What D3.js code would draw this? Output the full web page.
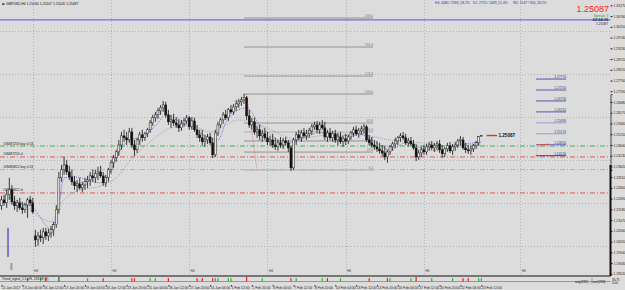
<!DOCTYPE html>
<html>
<head>
<meta charset="utf-8">
<script src="https://cdn.jsdelivr.net/npm/d3@7"></script>
<style>
body { margin: 0; background: #dcdcdc; }
svg { display: block; font-family: "Liberation Sans", Arial, sans-serif; }
</style>
</head>
<body>
<div id="chart"></div>
<script>
// GBPUSD H4, first bar 11 Jan 2017 20:00, [open, high, low, close]
const bars = [
  [1.2175,1.2222,1.2156,1.2203],[1.2203,1.2227,1.2175,1.2189],[1.2189,1.2251,1.2165,1.2227],[1.2227,1.2308,1.2203,1.2251],
  [1.2251,1.2274,1.2179,1.2194],[1.2194,1.2222,1.2156,1.2175],[1.2175,1.2203,1.2146,1.2189],[1.2189,1.2213,1.2156,1.2165],
  [1.2165,1.2194,1.2137,1.2156],[1.2156,1.2189,1.2141,1.2179],[1.2179,1.2213,1.2118,1.2203],[1.2203,1.2222,1.2175,1.2189],
  [1.2189,1.2213,1.2137,1.2146],
  [1.2032,1.2061,1.1980,1.2013],[1.2013,1.2051,1.1985,1.2032],[1.2032,1.2061,1.2003,1.2023],[1.2023,1.2070,1.1994,1.2051],
  [1.2051,1.2070,1.2013,1.2032],[1.2032,1.2066,1.2008,1.2046],
  [1.2046,1.2080,1.2023,1.2061],[1.2061,1.2099,1.2032,1.2085],[1.2085,1.2179,1.2070,1.2156],[1.2156,1.2336,1.2137,1.2308],
  [1.2308,1.2369,1.2289,1.2346],[1.2346,1.2407,1.2322,1.2369],
  [1.2369,1.2393,1.2322,1.2336],[1.2336,1.2365,1.2298,1.2312],[1.2312,1.2346,1.2274,1.2289],[1.2289,1.2317,1.2251,1.2270],
  [1.2270,1.2298,1.2241,1.2279],[1.2279,1.2308,1.2251,1.2260],
  [1.2260,1.2289,1.2241,1.2274],[1.2274,1.2308,1.2251,1.2289],[1.2289,1.2317,1.2260,1.2298],[1.2298,1.2336,1.2270,1.2317],
  [1.2317,1.2346,1.2289,1.2308],[1.2308,1.2346,1.2284,1.2327],
  [1.2327,1.2360,1.2298,1.2336],[1.2336,1.2365,1.2308,1.2317],[1.2317,1.2336,1.2270,1.2284],[1.2284,1.2322,1.2265,1.2308],
  [1.2308,1.2355,1.2289,1.2346],[1.2346,1.2393,1.2327,1.2379],
  [1.2379,1.2417,1.2355,1.2403],[1.2403,1.2441,1.2384,1.2431],[1.2431,1.2488,1.2412,1.2464],[1.2464,1.2526,1.2441,1.2507],
  [1.2507,1.2536,1.2479,1.2498],[1.2498,1.2526,1.2464,1.2488],
  [1.2488,1.2545,1.2474,1.2526],[1.2526,1.2545,1.2450,1.2464],[1.2464,1.2488,1.2412,1.2441],[1.2441,1.2498,1.2426,1.2488],
  [1.2488,1.2526,1.2464,1.2512],[1.2512,1.2536,1.2479,1.2498],
  [1.2498,1.2526,1.2483,1.2517],[1.2517,1.2545,1.2502,1.2536],[1.2536,1.2583,1.2521,1.2569],[1.2569,1.2607,1.2555,1.2593],
  [1.2593,1.2621,1.2574,1.2607],[1.2607,1.2640,1.2588,1.2626],
  [1.2626,1.2654,1.2607,1.2640],[1.2640,1.2673,1.2621,1.2654],[1.2654,1.2669,1.2593,1.2607],[1.2607,1.2631,1.2559,1.2574],
  [1.2574,1.2607,1.2545,1.2583],[1.2583,1.2612,1.2555,1.2569],
  [1.2569,1.2597,1.2545,1.2559],[1.2559,1.2588,1.2526,1.2545],[1.2545,1.2583,1.2531,1.2564],[1.2564,1.2593,1.2550,1.2578],
  [1.2578,1.2607,1.2564,1.2593],[1.2593,1.2602,1.2536,1.2550],
  [1.2550,1.2597,1.2536,1.2578],[1.2578,1.2593,1.2526,1.2536],[1.2536,1.2559,1.2498,1.2512],[1.2512,1.2536,1.2479,1.2498],
  [1.2498,1.2536,1.2464,1.2479],[1.2479,1.2512,1.2455,1.2488],
  [1.2488,1.2517,1.2469,1.2502],[1.2502,1.2521,1.2464,1.2474],[1.2474,1.2498,1.2403,1.2417],[1.2417,1.2536,1.2407,1.2521],
  [1.2521,1.2574,1.2507,1.2559],[1.2559,1.2593,1.2545,1.2583],
  [1.2583,1.2621,1.2564,1.2607],[1.2607,1.2631,1.2583,1.2593],[1.2593,1.2640,1.2578,1.2631],[1.2631,1.2654,1.2612,1.2621],
  [1.2621,1.2659,1.2607,1.2645],[1.2645,1.2678,1.2626,1.2659],
  [1.2659,1.2683,1.2640,1.2669],[1.2669,1.2692,1.2650,1.2678],[1.2678,1.2707,1.2659,1.2688],[1.2688,1.2697,1.2583,1.2602],
  [1.2602,1.2631,1.2545,1.2559],[1.2559,1.2593,1.2536,1.2574],
  [1.2574,1.2593,1.2512,1.2526],[1.2526,1.2555,1.2498,1.2536],[1.2536,1.2559,1.2488,1.2507],[1.2507,1.2536,1.2479,1.2517],
  [1.2517,1.2545,1.2488,1.2498],[1.2498,1.2526,1.2464,1.2479],
  [1.2479,1.2507,1.2460,1.2488],[1.2488,1.2517,1.2450,1.2464],[1.2464,1.2498,1.2441,1.2455],[1.2455,1.2488,1.2436,1.2474],
  [1.2474,1.2502,1.2450,1.2464],[1.2464,1.2498,1.2445,1.2483],
  [1.2483,1.2502,1.2460,1.2474],[1.2474,1.2488,1.2431,1.2450],[1.2450,1.2460,1.2341,1.2355],[1.2355,1.2498,1.2346,1.2488],
  [1.2488,1.2526,1.2464,1.2512],[1.2512,1.2536,1.2488,1.2498],
  [1.2498,1.2536,1.2479,1.2521],[1.2521,1.2545,1.2498,1.2507],[1.2507,1.2536,1.2488,1.2517],[1.2517,1.2545,1.2498,1.2531],
  [1.2531,1.2564,1.2512,1.2550],[1.2550,1.2574,1.2536,1.2559],
  [1.2559,1.2578,1.2521,1.2536],[1.2536,1.2574,1.2517,1.2559],[1.2559,1.2583,1.2536,1.2545],[1.2545,1.2574,1.2488,1.2502],
  [1.2502,1.2536,1.2479,1.2521],[1.2521,1.2545,1.2488,1.2498],
  [1.2498,1.2531,1.2479,1.2517],[1.2517,1.2536,1.2474,1.2488],[1.2488,1.2521,1.2460,1.2502],[1.2502,1.2526,1.2469,1.2479],
  [1.2479,1.2507,1.2455,1.2493],[1.2493,1.2517,1.2464,1.2483],
  [1.2483,1.2512,1.2469,1.2502],[1.2502,1.2531,1.2488,1.2521],[1.2521,1.2550,1.2502,1.2536],[1.2536,1.2555,1.2507,1.2517],
  [1.2517,1.2545,1.2498,1.2531],[1.2531,1.2555,1.2512,1.2540],
  [1.2540,1.2564,1.2517,1.2550],[1.2550,1.2559,1.2479,1.2488],[1.2488,1.2512,1.2460,1.2474],[1.2474,1.2502,1.2450,1.2464],
  [1.2464,1.2488,1.2441,1.2455],[1.2455,1.2483,1.2431,1.2445],
  [1.2445,1.2474,1.2422,1.2436],[1.2436,1.2464,1.2412,1.2426],[1.2426,1.2460,1.2393,1.2407],[1.2407,1.2441,1.2379,1.2431],
  [1.2431,1.2464,1.2417,1.2455],[1.2455,1.2479,1.2436,1.2469],
  [1.2469,1.2498,1.2450,1.2483],[1.2483,1.2507,1.2464,1.2498],[1.2498,1.2521,1.2479,1.2507],[1.2507,1.2526,1.2488,1.2498],
  [1.2498,1.2517,1.2464,1.2474],[1.2474,1.2498,1.2455,1.2483],
  [1.2483,1.2502,1.2460,1.2469],[1.2469,1.2488,1.2441,1.2450],[1.2450,1.2469,1.2388,1.2407],[1.2407,1.2441,1.2393,1.2426],
  [1.2426,1.2455,1.2407,1.2441],[1.2441,1.2464,1.2417,1.2431],
  [1.2431,1.2469,1.2417,1.2455],[1.2455,1.2479,1.2436,1.2464],[1.2464,1.2483,1.2441,1.2450],[1.2450,1.2474,1.2431,1.2460],
  [1.2460,1.2483,1.2441,1.2469],[1.2469,1.2488,1.2426,1.2441],
  [1.2441,1.2464,1.2403,1.2422],[1.2422,1.2455,1.2407,1.2445],[1.2445,1.2474,1.2431,1.2460],[1.2460,1.2479,1.2426,1.2436],
  [1.2436,1.2469,1.2417,1.2455],[1.2455,1.2479,1.2436,1.2464],
  [1.2464,1.2493,1.2450,1.2483],[1.2483,1.2507,1.2464,1.2488],[1.2488,1.2502,1.2441,1.2450],[1.2450,1.2474,1.2426,1.2441],
  [1.2441,1.2464,1.2422,1.2436],[1.2436,1.2460,1.2417,1.2445],
  [1.2445,1.2469,1.2431,1.2460],[1.2460,1.2483,1.2445,1.2474],[1.2474,1.2507,1.2460,1.2503],[1.25030,1.25107,1.25020,1.25087]
];

// time axis, one label every 8 bars
const timeLabels = ["11 Jan 2017","13 Jan 04:00","16 Jan 12:00","17 Jan 20:00","19 Jan 04:00","20 Jan 12:00",
  "23 Jan 20:00","25 Jan 04:00","26 Jan 12:00","27 Jan 20:00","31 Jan 04:00","1 Feb 12:00","2 Feb 20:00",
  "6 Feb 04:00","7 Feb 12:00","8 Feb 20:00","10 Feb 04:00","13 Feb 12:00","14 Feb 20:00","16 Feb 04:00",
  "17 Feb 12:00","20 Feb 20:00","22 Feb 04:00","23 Feb 12:00"];

const priceTicks = [1.31270,1.30760,1.30250,1.29740,1.29230,1.28720,1.28210,1.27700,1.27190,1.26680,
  1.26170,1.25660,1.25150,1.24640,1.24130,1.23620,1.23110,1.22600,1.22090,1.21580,1.21070,1.20560,
  1.20050,1.19540,1.19030,1.18520];

const gridPrices = [1.3003, 1.2799, 1.2595, 1.2391, 1.2187, 1.1983];
const gridBars = [12, 42, 72, 102, 132, 162, 199];

// fibo retracement drawn from the 2 Feb high to the 7 Feb low
const fibHigh = 1.2706;
const fibLow = 1.2345;
const fibLevels = [0, 23.6, 38.2, 50, 61.8, 100, 123.6, 161.8, 200];
const fibBars = [93, 142.5];
const fibAnchorBars = [94, 98];

// projection targets on the right
const targetPrices = [1.27770, 1.27250, 1.26730, 1.26210, 1.25690, 1.25170, 1.24650, 1.24130];
const targetBars = [205, 216.5];

// open orders and stop levels
const orderPrices = [1.2459, 1.2407, 1.2347, 1.2236];
const orderLabels = ["#48487256 buy 0.53", "#48487256 sl", "#48486822 buy 0.53", "#48486822 sl"];

const blueLevel = 1.3058;

// moving averages, [bar, price]
const maFast = [[3,1.2189],[11,1.2175],[19,1.2066],[22,1.2179],[24,1.2308],[28,1.2312],[38,1.2284],[42,1.2346],
  [45,1.2426],[49,1.2488],[54,1.2502],[60,1.2569],[63,1.2607],[67,1.2583],[73,1.2545],[79,1.2502],[83,1.2488],
  [86,1.2569],[91,1.2631],[94,1.2640],[99,1.2559],[111,1.2474],[114,1.2488],[122,1.2521],[130,1.2507],
  [137,1.2517],[143,1.2479],[149,1.2441],[155,1.2474],[161,1.2450],[168,1.2436],[176,1.2464],[184,1.2479]];
const maSlow = [[1,1.2217],[7,1.2194],[15,1.2118],[19,1.2099],[23,1.2189],[28,1.2241],[38,1.2270],[44,1.2308],
  [49,1.2384],[57,1.2479],[65,1.2545],[72,1.2559],[80,1.2526],[91,1.2583],[99,1.2559],[113,1.2493],
  [126,1.2512],[137,1.2512],[149,1.2488],[161,1.2474],[172,1.2460],[184,1.2469]];

// histogram signals in the lower window, [bar, value]
const signals = [[10,-1],[15,1],[17,-1],[22,2],[33,1],[39,-1],[50,-1],[51,-1],[57,1],[59,1],[64,-1],[75,-1],
  [77,-1],[81,-1],[82,1],[83,1],[87,1],[88,1],[94,-2],[100,1],[111,-1],[113,1],[123,1],[125,-1],[130,1],
  [141,-1],[148,-1],[149,1],[157,1],[159,-2],[165,1],[173,1],[177,-1],[179,-1],[183,1],[184,1]];

const statsTexts = ["H4: 4480 / 2586_58.2%", "D1: 2770 / 1449_51.4%", "W1: 1547 / 900_58.2%"];

const svgWidth = 625;
const svgHeight = 290;
const plotRight = 610.5;
const plotBottom = 276;

const svg = d3.select("#chart").append("svg")
  .attr("width", svgWidth)
  .attr("height", svgHeight);

svg.append("rect").attr("width", svgWidth).attr("height", svgHeight).attr("fill", "#dcdcdc");

const x = d3.scaleLinear().domain([0, bars.length - 1]).range([1.5, 481.3]);
const y = d3.scaleLinear().domain([fibLow, fibHigh]).range([170, 94]);

// grid
svg.append("g").selectAll("line").data(gridPrices).join("line")
  .attr("x1", 0).attr("x2", plotRight)
  .attr("y1", d => Math.round(y(d)) + 0.5).attr("y2", d => Math.round(y(d)) + 0.5)
  .attr("stroke", "#a9a9a9").attr("stroke-width", 0.8).attr("stroke-dasharray", "1,2");

svg.append("g").selectAll("line").data(gridBars).join("line")
  .attr("x1", d => Math.round(x(d)) + 0.5).attr("x2", d => Math.round(x(d)) + 0.5)
  .attr("y1", 0).attr("y2", plotBottom)
  .attr("stroke", "#a9a9a9").attr("stroke-width", 0.8).attr("stroke-dasharray", "1,2");

svg.append("g").selectAll("text").data(gridBars).join("text")
  .attr("x", d => x(d) + 1.5).attr("y", plotBottom - 4)
  .attr("font-size", 3).attr("fill", "#333").text("H4");

// blue horizontal level
svg.append("line")
  .attr("x1", 0).attr("x2", plotRight)
  .attr("y1", y(blueLevel)).attr("y2", y(blueLevel))
  .attr("stroke", "#6f6fe6").attr("stroke-width", 1.4);

// fibo levels
const fib = svg.append("g");
fib.selectAll("line").data(fibLevels).join("line")
  .attr("x1", x(fibBars[0])).attr("x2", x(fibBars[1]))
  .attr("y1", d => y(fibLow + (fibHigh - fibLow) * d / 100))
  .attr("y2", d => y(fibLow + (fibHigh - fibLow) * d / 100))
  .attr("stroke", d => (d === 0 || d === 50) ? "#a8a8a8" : "#8a8a8a")
  .attr("stroke-width", 0.9);
fib.selectAll("text").data(fibLevels).join("text")
  .attr("x", x(fibBars[1]))
  .attr("y", d => y(fibLow + (fibHigh - fibLow) * d / 100) - 1)
  .attr("text-anchor", "end").attr("font-size", 3.3).attr("fill", "#777")
  .text(d => d.toFixed(1));
fib.append("line")
  .attr("x1", x(fibAnchorBars[0])).attr("y1", y(fibHigh))
  .attr("x2", x(fibAnchorBars[1])).attr("y2", y(fibLow))
  .attr("stroke", "#e06a6a").attr("stroke-width", 0.7).attr("stroke-dasharray", "1,1");

// order lines
const orderColors = ["#3aa83a", "#d94a4a", "#8cc98c", "#d94a4a"];
svg.append("g").selectAll("line").data(orderPrices).join("line")
  .attr("x1", 0).attr("x2", plotRight)
  .attr("y1", d => y(d)).attr("y2", d => y(d))
  .attr("stroke", (d, i) => orderColors[i]).attr("stroke-width", 0.9)
  .attr("stroke-dasharray", "5,2,1,2");
svg.append("g").selectAll("text").data(orderPrices).join("text")
  .attr("x", 3).attr("y", d => y(d) - 1.5)
  .attr("font-size", 3.3).attr("fill", "#222")
  .text((d, i) => orderLabels[i]);

// moving averages
const maLine = d3.line().x(d => x(d[0])).y(d => y(d[1])).curve(d3.curveMonotoneX);
svg.append("path").datum(maSlow).attr("d", maLine)
  .attr("fill", "none").attr("stroke", "#9a9a9a").attr("stroke-width", 0.8).attr("stroke-dasharray", "1,1");
svg.append("path").datum(maFast).attr("d", maLine)
  .attr("fill", "none").attr("stroke", "#5a5ad8").attr("stroke-width", 0.8).attr("stroke-dasharray", "1,1");

// candles
const candles = svg.append("g");
candles.selectAll("line").data(bars).join("line")
  .attr("x1", (d, i) => x(i)).attr("x2", (d, i) => x(i))
  .attr("y1", d => y(d[1])).attr("y2", d => y(d[2]))
  .attr("stroke", "#111").attr("stroke-width", 0.8);
candles.selectAll("rect").data(bars).join("rect")
  .attr("x", (d, i) => x(i) - 1)
  .attr("width", 2)
  .attr("y", d => y(Math.max(d[0], d[3])))
  .attr("height", d => Math.max(0.6, Math.abs(y(d[0]) - y(d[3]))))
  .attr("fill", d => d[3] >= d[0] ? "#e4e4e4" : "#111")
  .attr("stroke", "#111").attr("stroke-width", 0.45);

// targets
const targetColors = ["#5656aa", "#5656aa", "#5656aa", "#5656aa", "#9c9cd2", "#9c9cd2", "#6a58c8", "#3c3c8c"];
const tg = svg.append("g");
tg.selectAll("line").data(targetPrices).join("line")
  .attr("x1", x(targetBars[0])).attr("x2", x(targetBars[1]))
  .attr("y1", d => y(d)).attr("y2", d => y(d))
  .attr("stroke", (d, i) => targetColors[i]).attr("stroke-width", 1);
tg.selectAll("text").data(targetPrices).join("text")
  .attr("x", x(targetBars[1])).attr("y", d => y(d) - 1)
  .attr("text-anchor", "end").attr("font-size", 3.3).attr("fill", "#3c3c8c")
  .text(d => d.toFixed(5));
tg.append("path")
  .attr("d", `M${x(targetBars[0])},${y(targetPrices[7])}L${x(targetBars[0]) + 2},${y(targetPrices[6])}`)
  .attr("fill", "none").attr("stroke", "#e07a7a").attr("stroke-width", 0.7).attr("stroke-dasharray", "1,1");
tg.append("line")
  .attr("x1", x(targetBars[0]) + 2).attr("x2", x(targetBars[0]) + 13)
  .attr("y1", y(targetPrices[6])).attr("y2", y(targetPrices[6]) - 0.5)
  .attr("stroke", "#d94a4a").attr("stroke-width", 0.9);

// current price marker
const last = bars[bars.length - 1][3];
svg.append("line")
  .attr("x1", x(bars.length + 1)).attr("x2", x(bars.length + 5))
  .attr("y1", y(last)).attr("y2", y(last))
  .attr("stroke", "#e03030").attr("stroke-width", 1.4);
svg.append("text")
  .attr("x", x(bars.length + 5) + 1.5).attr("y", y(last) + 1.6)
  .attr("font-size", 4.6).attr("font-weight", "bold").attr("fill", "#111")
  .text(last.toFixed(5));

// left blue marker
svg.append("line")
  .attr("x1", x(2.5)).attr("x2", x(2.5))
  .attr("y1", y(1.2070)).attr("y2", y(1.1932))
  .attr("stroke", "#2020b0").attr("stroke-width", 1);
svg.append("rect")
  .attr("x", x(3.4)).attr("width", 2)
  .attr("y", y(1.1903)).attr("height", y(1.1870) - y(1.1903))
  .attr("fill", "#9a9a9a");

// price axis
const yAxis = d3.axisRight(y).tickValues(priceTicks).tickSize(2).tickFormat(d => d.toFixed(5));
const ya = svg.append("g").attr("transform", `translate(${plotRight},0)`).call(yAxis);
ya.select(".domain").attr("stroke", "#222").attr("stroke-width", 0.8);
ya.selectAll("text").attr("font-size", 3.4).attr("fill", "#222").attr("x", 3);
ya.selectAll(".tick line").attr("stroke", "#222");
svg.append("line")
  .attr("x1", plotRight).attr("x2", plotRight)
  .attr("y1", 165).attr("y2", plotBottom)
  .attr("stroke", "#111").attr("stroke-width", 2);

// lower window
svg.append("line")
  .attr("x1", 0).attr("x2", plotRight)
  .attr("y1", plotBottom).attr("y2", plotBottom)
  .attr("stroke", "#111").attr("stroke-width", 1.2);
svg.append("line")
  .attr("x1", 0).attr("x2", plotRight)
  .attr("y1", 281.5).attr("y2", 281.5)
  .attr("stroke", "#8c8cf0").attr("stroke-width", 1);
const hy = d3.scaleLinear().domain([-2, 2]).range([281.5, 277]);
svg.append("g").selectAll("rect").data(signals).join("rect")
  .attr("x", d => x(d[0]) - 0.6).attr("width", 1.2)
  .attr("y", d => hy(Math.abs(d[1])))
  .attr("height", d => 281.5 - hy(Math.abs(d[1])))
  .attr("fill", d => d[1] > 0 ? (d[1] > 1 ? "#0a7a0a" : "#2fb52f") : "#e82020");
svg.append("text").attr("x", 2).attr("y", 280)
  .attr("font-size", 3.2).attr("fill", "#111").text("Trend_signal_1.5 LFL 133.88 (3)");
svg.append("text").attr("x", 575).attr("y", 282.5)
  .attr("font-size", 3.4).attr("fill", "#111").text("avg(331)");
svg.append("text").attr("x", 593).attr("y", 282.5)
  .attr("font-size", 3.4).attr("fill", "#111").text("act(233)");
svg.append("line").attr("x1", 592).attr("x2", 592).attr("y1", 278).attr("y2", 284).attr("stroke", "#555").attr("stroke-width", 0.5);
svg.append("text").attr("x", 612).attr("y", 280.5)
  .attr("font-size", 3).attr("fill", "#111").text("36.75");
svg.append("text").attr("x", 612).attr("y", 284)
  .attr("font-size", 3).attr("fill", "#111").text("0.00");

// time axis
const xAxis = d3.axisBottom(x)
  .tickValues(timeLabels.map((d, i) => i * 8))
  .tickSize(1.5)
  .tickFormat((d, i) => timeLabels[i]);
const xa = svg.append("g").attr("transform", "translate(0,285)").call(xAxis);
xa.select(".domain").remove();
xa.selectAll(".tick line").attr("stroke", "#333");
xa.selectAll("text").attr("font-size", 3.4).attr("fill", "#222")
  .attr("text-anchor", "start").attr("dx", 0).attr("y", 2);

// header texts
svg.append("rect").attr("x", 2).attr("y", 3.5).attr("width", 2.5).attr("height", 1.2).attr("fill", "#111");
svg.append("text").attr("x", 6).attr("y", 5.4).attr("font-size", 3.4).attr("fill", "#111")
  .text("GBPUSD,H4  " + bars[bars.length - 1].map(v => v.toFixed(5)).join(" "));
svg.append("g").selectAll("text").data(statsTexts).join("text")
  .attr("x", (d, i) => [435, 473, 513][i]).attr("y", 4)
  .attr("font-size", 3.3).attr("fill", "#2d2dd0").text(d => d);

svg.append("text").attr("x", 609).attr("y", 12.2)
  .attr("text-anchor", "end").attr("font-size", 9).attr("fill", "#ff1a1a")
  .text(last.toFixed(5));
svg.append("text").attr("x", 608).attr("y", 17.2)
  .attr("text-anchor", "end").attr("font-size", 3.3).attr("fill", "#1a9a1a")
  .text("Spread: 3");
svg.append("text").attr("x", 608).attr("y", 21.2)
  .attr("text-anchor", "end").attr("font-size", 3.8).attr("font-weight", "bold").attr("fill", "#20206a")
  .text("02:24:39");
svg.append("text").attr("x", 608).attr("y", 25)
  .attr("text-anchor", "end").attr("font-size", 3.3).attr("fill", "#20206a")
  .text(last.toFixed(5));
</script>
</body>
</html>
